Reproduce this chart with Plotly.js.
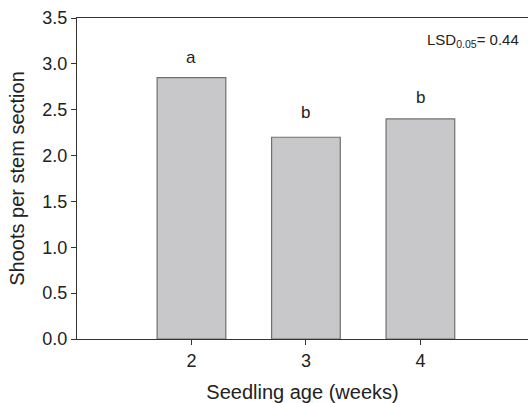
<!DOCTYPE html>
<html>
<head>
<meta charset="utf-8">
<script src="https://cdn.plot.ly/plotly-3.0.1.min.js"></script>
<style>html,body{margin:0;padding:0;background:#fff}#chart{width:528px;height:403px}</style>
</head>
<body>
<div id="chart"></div>
<script>
const ages = [2, 3, 4];
const shoots = [2.85, 2.2, 2.4];
const letters = ["a", "b", "b"];
const letterOffsets = [0.22, 0.27, 0.23];
const lsdLabel = "LSD<sub>0.05</sub>= 0.44";

const font = {family: "Arial, 'Liberation Sans', sans-serif", color: "#222"};

const annotations = ages.map((a, i) => ({
  x: a, y: shoots[i] + letterOffsets[i], text: letters[i], showarrow: false,
  font: Object.assign({}, font, {size: 17}), xref: "x", yref: "y"
}));
annotations.push({
  x: 0.985, y: 0.93, xref: "paper", yref: "paper", xanchor: "right", yanchor: "middle",
  text: lsdLabel, showarrow: false, font: Object.assign({}, font, {size: 15})
});

Plotly.newPlot("chart", [{
  type: "bar", x: ages, y: shoots, width: 0.6,
  marker: {color: "#c8c8ca", line: {color: "#707070", width: 1.2}}
}], {
  width: 528, height: 403,
  margin: {l: 77, r: 0, t: 18, b: 64},
  paper_bgcolor: "#fff", plot_bgcolor: "#fff",
  font: font,
  showlegend: false,
  xaxis: {
    range: [1, 4.94], tickvals: ages, ticktext: ages.map(String),
    showgrid: false, zeroline: false, showline: true, linecolor: "#333", linewidth: 1.2,
    mirror: true, ticks: "outside", ticklen: 5, tickcolor: "#333",
    tickfont: {size: 18}, title: {text: "Seedling age (weeks)", font: {size: 20}, standoff: 19}
  },
  yaxis: {
    range: [0, 3.5], dtick: 0.5, tickformat: ".1f",
    showgrid: false, zeroline: false, showline: true, linecolor: "#333", linewidth: 1.2,
    ticks: "outside", ticklen: 5, tickcolor: "#333",
    tickfont: {size: 18}, title: {text: "Shoots per stem section", font: {size: 20}, standoff: 12}
  },
  annotations: annotations
}, {staticPlot: true});
</script>
</body>
</html>
